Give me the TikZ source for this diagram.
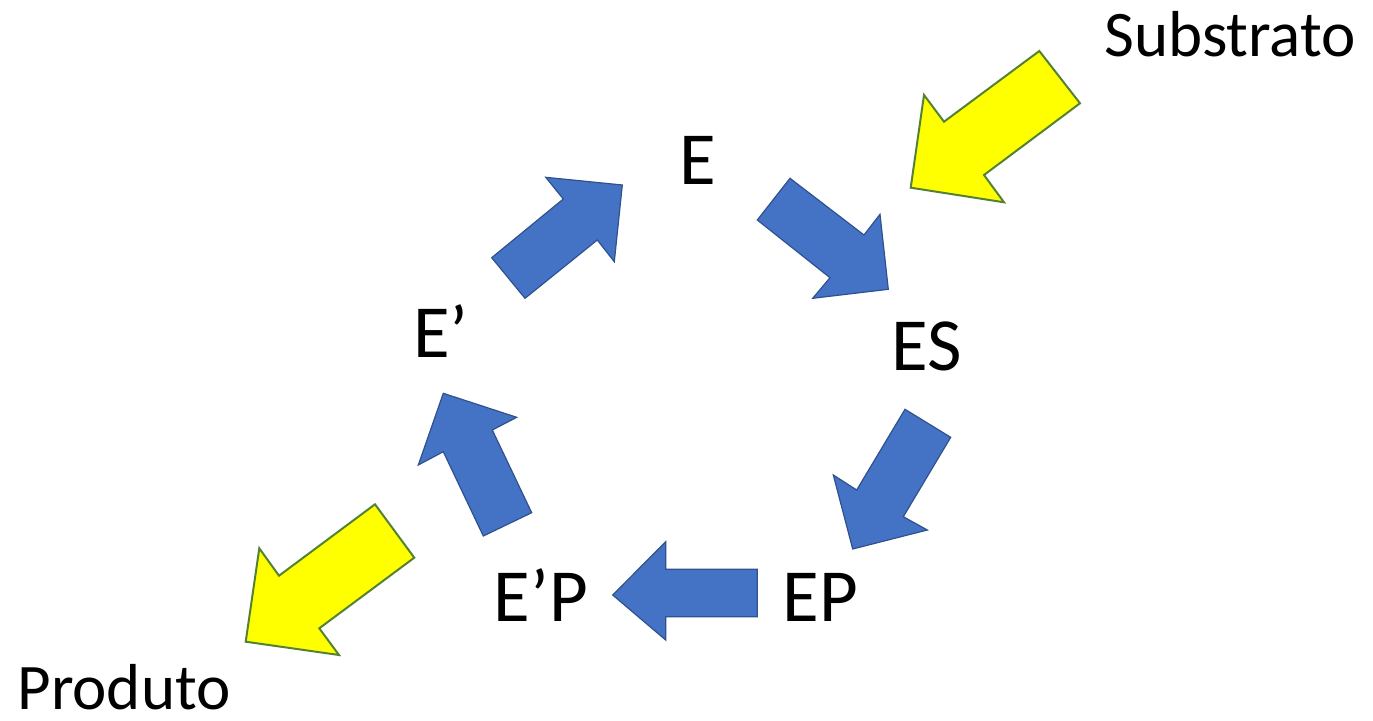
\documentclass[tikz,border=0pt]{standalone}
\usepackage{fontspec}
\setmainfont{Carlito}
\definecolor{arrowblue}{RGB}{68,114,196}
\definecolor{arrowblueline}{RGB}{47,82,143}
\definecolor{arrowyellow}{RGB}{255,255,0}
\definecolor{arrowgreen}{RGB}{84,130,53}
\begin{document}
\begin{tikzpicture}[x=1pt,y=-1pt,
  bluearrow/.style={fill=arrowblue,draw=arrowblueline,line width=1.2pt,line join=miter},
  yellowarrow/.style={fill=arrowyellow,draw=arrowgreen,line width=2pt,line join=miter},
  big/.style={inner sep=0pt,anchor=base,font=\fontsize{75}{90}\selectfont},
  side/.style={inner sep=0pt,anchor=base,font=\fontsize{65}{78}\selectfont}]
\useasboundingbox (0,0) rectangle (1373,720);
% labels
\node[big] (E) at (698,184) {E};
\node[big] (ES) at (926.5,370) {ES};
\node[big] (Ep) at (441,357) {E’};
\node[big] (EpP) at (541,621) {E’P};
\node[big] (EP) at (820.5,621) {EP};
\node[side] (sub) at (1230,56) {Substrato};
\node[side] (prod) at (124,709) {Produto};
% blue cycle arrows
\draw[bluearrow] (491.7,257.7) -- (525,298.3) -- (597.3,240) -- (614.3,261.7) -- (622.3,185) -- (545.7,177.3) -- (563.3,199) -- cycle;
\draw[bluearrow] (790,178.3) -- (864,235) -- (880,214.3) -- (888.3,289.3) -- (812.7,298.3) -- (830,277.7) -- (757.3,220) -- cycle;
\draw[bluearrow] (905,409.3) -- (950.7,437.3) -- (903.3,516.7) -- (927.3,530) -- (852.7,549) -- (833.3,475) -- (856.7,490) -- cycle;
\draw[bluearrow] (757.3,569.3) -- (757.3,616.7) -- (665.7,616.7) -- (665.7,640) -- (612.7,595) -- (665.7,541.7) -- (665.7,569.3) -- cycle;
\draw[bluearrow] (483.3,536) -- (531.7,512.7) -- (492.3,430) -- (516.7,417.3) -- (443.3,393.3) -- (418.3,465) -- (443.3,451.7) -- cycle;
% yellow arrows
\draw[yellowarrow] (1039.3,51) -- (1080,103.3) -- (984,175) -- (1004,202.3) -- (910.7,187.7) -- (924,95) -- (944,121.7) -- cycle;
\draw[yellowarrow] (375,504.3) -- (414.3,557.7) -- (319.3,628.3) -- (339,655) -- (245.7,641.7) -- (259.3,548.3) -- (279,575.7) -- cycle;
\end{tikzpicture}
\end{document}
